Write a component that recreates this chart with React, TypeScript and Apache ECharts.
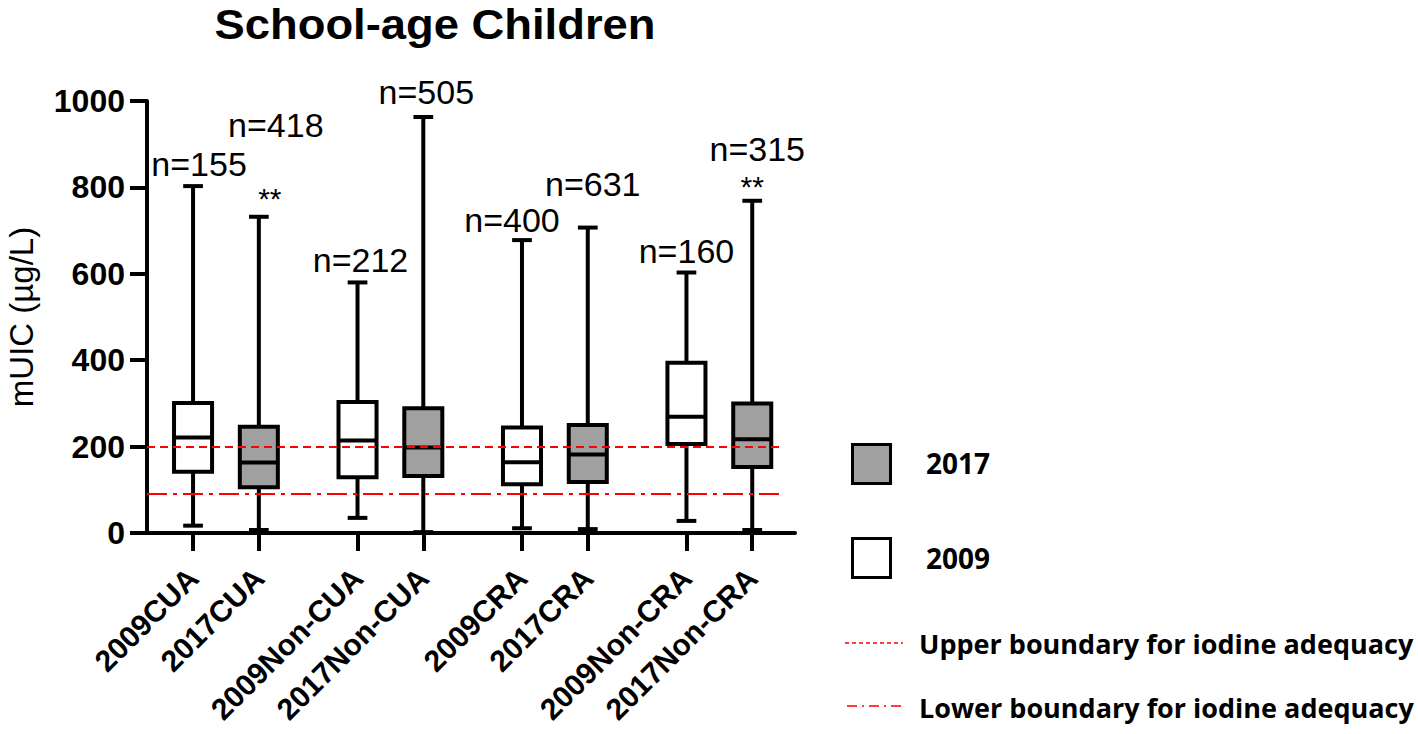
import React, { useEffect, useRef } from "react";
import * as echarts from "echarts";

// ---- data ----
const categories = [
  "2009CUA",
  "2017CUA",
  "2009Non-CUA",
  "2017Non-CUA",
  "2009CRA",
  "2017CRA",
  "2009Non-CRA",
  "2017Non-CRA",
];
const whiskerMin = [17, 7, 35, 2, 11, 9, 28, 7];
const quartile1 = [142, 106, 129, 132, 113, 118, 206, 153];
const medians = [221, 163, 214, 198, 164, 182, 269, 217];
const quartile3 = [301, 246, 303, 289, 244, 250, 394, 300];
const whiskerMax = [803, 732, 580, 963, 678, 707, 603, 769];
const sampleSizes = [155, 418, 212, 505, 400, 631, 160, 315];
const significance = ["", "**", "", "", "", "", "", "**"];
const yTicks = [0, 200, 400, 600, 800, 1000];
const upperBoundary = 200;
const lowerBoundary = 90;
const legendYears = ["2017", "2009"];
const legendLines = [
  "Upper boundary for iodine adequacy",
  "Lower boundary for iodine adequacy",
];

// ---- layout / style (not data) ----
const positions = categories.map((_, i) => Math.floor(i / 2) * 2.5 + (i % 2));
const nLabelShift = [
  [6, -22],
  [17, -92],
  [3, -22],
  [3, -24.5],
  [-10, -20],
  [5, -44],
  [0, -22],
  [5, -52],
];
const starShift = [
  [0, 0],
  [11, -18],
  [0, 0],
  [0, 0],
  [0, 0],
  [0, 0],
  [0, 0],
  [0, -14],
];
const GRAY = "#a0a0a0";
const ARIAL = "'Liberation Sans', Arial, sans-serif";
const LEG = "'Open Sans', 'Liberation Sans', sans-serif";

function buildOption() {
  const boxData = categories.map((_, i) => [
    positions[i],
    whiskerMin[i],
    quartile1[i],
    medians[i],
    quartile3[i],
    whiskerMax[i],
    i,
  ]);

  const renderItem = (params: any, api: any) => {
    const x = api.value(0);
    const i = api.value(6);
    const lo = api.coord([x, api.value(1)]);
    const b1 = api.coord([x, api.value(2)]);
    const md = api.coord([x, api.value(3)]);
    const b3 = api.coord([x, api.value(4)]);
    const hi = api.coord([x, api.value(5)]);
    const boxW = api.size([0.578, 0])[0];
    const capW = api.size([0.3, 0])[0];
    const cx = hi[0];
    const ls = { stroke: "#000", lineWidth: 4 };
    const children: any[] = [
      { type: "line", shape: { x1: cx, y1: hi[1], x2: cx, y2: b3[1] }, style: ls },
      { type: "line", shape: { x1: cx, y1: b1[1], x2: cx, y2: lo[1] }, style: ls },
      { type: "line", shape: { x1: cx - capW / 2, y1: hi[1], x2: cx + capW / 2, y2: hi[1] }, style: ls },
      { type: "line", shape: { x1: cx - capW / 2, y1: lo[1], x2: cx + capW / 2, y2: lo[1] }, style: ls },
      {
        type: "rect",
        shape: { x: cx - boxW / 2, y: b3[1], width: boxW, height: b1[1] - b3[1] },
        style: { fill: i % 2 ? GRAY : "#fff", stroke: "#000", lineWidth: 4 },
      },
      { type: "line", shape: { x1: cx - boxW / 2, y1: md[1], x2: cx + boxW / 2, y2: md[1] }, style: ls },
      {
        type: "text",
        x: cx + nLabelShift[i][0],
        y: hi[1] + nLabelShift[i][1],
        style: {
          text: "n=" + sampleSizes[i],
          fill: "#000",
          font: `34px ${ARIAL}`,
          align: "center",
          verticalAlign: "middle",
        },
      },
    ];
    if (significance[i]) {
      children.push({
        type: "text",
        x: cx + starShift[i][0],
        y: hi[1] + starShift[i][1],
        style: {
          text: significance[i],
          fill: "#000",
          font: `30px ${ARIAL}`,
          align: "center",
          verticalAlign: "middle",
        },
      });
    }
    return { type: "group", children };
  };

  const xMin = -0.7;
  const xMax = 9.15;
  const lineEnd = 8.97;

  return {
    animation: false,
    backgroundColor: "#fff",
    grid: {
      left: 147,
      right: 1418 - 795,
      top: 101,
      bottom: 734 - 533,
      containLabel: false,
      outerBoundsMode: "none",
    },
    xAxis: {
      type: "value",
      min: xMin,
      max: xMax,
      splitLine: { show: false },
      axisLine: { onZero: false, lineStyle: { color: "#000", width: 4 } },
      axisTick: {
        show: true,
        length: 18,
        customValues: positions,
        lineStyle: { color: "#000", width: 4 },
      },
      axisLabel: {
        customValues: positions,
        formatter: (v: number) => {
          const k = positions.findIndex((p) => Math.abs(p - v) < 1e-6);
          return k >= 0 ? categories[k] : "";
        },
        rotate: 45,
        align: "right",
        verticalAlign: "middle",
        margin: 40,
        color: "#000",
        fontSize: 30,
        fontWeight: "bold",
        fontFamily: ARIAL,
      },
    },
    yAxis: {
      type: "value",
      min: 0,
      max: 1000,
      interval: 200,
      splitLine: { show: false },
      axisLine: { show: true, onZero: false, lineStyle: { color: "#000", width: 4 } },
      axisTick: { show: true, length: 17, lineStyle: { color: "#000", width: 4 } },
      axisLabel: {
        color: "#000",
        fontSize: 32,
        fontWeight: "bold",
        fontFamily: ARIAL,
        margin: 22,
        formatter: (v: number) => (yTicks.includes(v) ? String(v) : ""),
      },
      name: "mUIC (µg/L)",
      nameLocation: "middle",
      nameRotate: 90,
      nameGap: 126,
      nameTextStyle: {
        color: "#000",
        fontSize: 33,
        fontFamily: ARIAL,
        verticalAlign: "middle",
      },
    },
    series: [
      {
        type: "custom",
        renderItem,
        data: boxData,
        encode: { x: 0, y: [1, 2, 3, 4, 5] },
        clip: false,
        markLine: {
          silent: true,
          symbol: "none",
          label: { show: false },
          data: [
            [
              { coord: [xMin, upperBoundary], lineStyle: { color: "#ff0000", width: 2, type: [8, 5] } },
              { coord: [lineEnd, upperBoundary] },
            ],
            [
              { coord: [xMin, lowerBoundary], lineStyle: { color: "#ff0000", width: 2, type: [20, 6, 4, 6] } },
              { coord: [lineEnd, lowerBoundary] },
            ],
          ],
        },
      },
    ],
    graphic: [
      {
        type: "text",
        x: 435,
        y: 24,
        scaleX: 1.08,
        style: {
          text: "School-age Children",
          fill: "#000",
          font: `bold 42px ${ARIAL}`,
          align: "center",
          verticalAlign: "middle",
        },
      },
      {
        type: "rect",
        shape: { x: 852.5, y: 444.5, width: 38, height: 39 },
        style: { fill: GRAY, stroke: "#000", lineWidth: 3 },
      },
      {
        type: "rect",
        shape: { x: 852.5, y: 538.5, width: 38, height: 39 },
        style: { fill: "#fff", stroke: "#000", lineWidth: 3 },
      },
      {
        type: "text",
        x: 926,
        y: 463,
        style: { text: legendYears[0], fill: "#000", font: `bold 28px ${LEG}`, align: "left", verticalAlign: "middle" },
      },
      {
        type: "text",
        x: 926,
        y: 558,
        style: { text: legendYears[1], fill: "#000", font: `bold 28px ${LEG}`, align: "left", verticalAlign: "middle" },
      },
      {
        type: "line",
        shape: { x1: 845, y1: 643, x2: 903, y2: 643 },
        style: { stroke: "#ff0000", lineWidth: 1.5, lineDash: [4, 3] },
      },
      {
        type: "line",
        shape: { x1: 847, y1: 706, x2: 904, y2: 706 },
        style: { stroke: "#ff0000", lineWidth: 1.5, lineDash: [10, 5, 2, 5] },
      },
      {
        type: "text",
        x: 919,
        y: 643,
        style: { text: legendLines[0], fill: "#000", font: `bold 27px ${LEG}`, align: "left", verticalAlign: "middle" },
      },
      {
        type: "text",
        x: 919,
        y: 707,
        style: { text: legendLines[1], fill: "#000", font: `bold 27px ${LEG}`, align: "left", verticalAlign: "middle" },
      },
    ],
  };
}

export default function App() {
  const ref = useRef<HTMLDivElement>(null);
  useEffect(() => {
    document.body.style.margin = "0";
    document.body.style.overflow = "hidden";
    const chart = echarts.init(ref.current!, null, { renderer: "svg" });
    chart.setOption(buildOption() as any);
    return () => chart.dispose();
  }, []);
  return <div ref={ref} style={{ width: 1418, height: 734 }} />;
}
